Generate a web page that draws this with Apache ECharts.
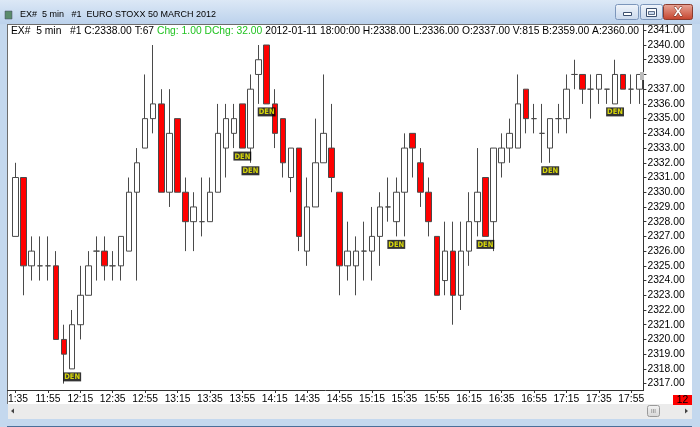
<!DOCTYPE html>
<html><head><meta charset="utf-8">
<script src="https://cdn.jsdelivr.net/npm/echarts@6/dist/echarts.min.js"></script>
<style>html,body{margin:0;padding:0;background:#c4d8ee;}#c{width:700px;height:427px;}</style>
</head><body><div id="c"></div>
<script>
const times = ['11:35','11:40','11:45','11:50','11:55','12:00','12:05','12:10','12:15','12:20','12:25','12:30','12:35','12:40','12:45','12:50','12:55',
'13:00','13:05','13:10','13:15','13:20','13:25','13:30','13:35','13:40','13:45','13:50','13:55',
'14:00','14:05','14:10','14:15','14:20','14:25','14:30','14:35','14:40','14:45','14:50','14:55',
'15:00','15:05','15:10','15:15','15:20','15:25','15:30','15:35','15:40','15:45','15:50','15:55',
'16:00','16:05','16:10','16:15','16:20','16:25','16:30','16:35','16:40','16:45','16:50','16:55',
'17:00','17:05','17:10','17:15','17:20','17:25','17:30','17:35','17:40','17:45','17:50','17:55','18:00'];
const opens = [2327,2331,2325,2325,2325,2325,2320,2318,2321,2323, 2326,2326,2325,2325,2326,2330,2333,2335,2336,2330,
 2335,2330,2328,2328,2328,2330,2333,2334,2336,2333, 2338,2340,2336,2335,2331,2333,2326,2329,2332,2333,
 2330,2325,2325,2326,2326,2327,2329,2328,2330,2334, 2332,2330,2327,2324,2326,2323,2326,2328,2331,2328,
 2332,2333,2333,2337,2335,2334,2333,2335,2335,2338, 2338,2337,2337,2337,2336,2338,2337,2337];
const closes = [2331,2325,2326,2325,2325,2320,2319,2321,2323,2325, 2326,2325,2325,2327,2330,2332,2335,2336,2330,2334,
 2330,2328,2329,2328,2330,2334,2335,2335,2333,2337, 2339,2336,2334,2332,2333,2327,2329,2332,2334,2331,
 2325,2326,2326,2326,2327,2329,2329,2330,2333,2333, 2330,2328,2323,2326,2323,2326,2328,2330,2327,2333,
 2333,2334,2336,2335,2335,2334,2335,2335,2337,2338, 2337,2337,2338,2337,2338,2337,2337,2338];
const lows = [2327,2323,2324,2324,2324,2320,2317,2318,2320,2323, 2324,2324,2324,2324,2326,2324,2333,2334,2330,2329,
 2330,2326,2326,2327,2328,2330,2331,2333,2333,2332, 2336,2336,2333,2331,2330,2326,2325,2329,2332,2330,
 2323,2324,2323,2324,2324,2325,2328,2327,2327,2331, 2329,2327,2323,2323,2321,2322,2325,2327,2327,2326,
 2331,2332,2333,2334,2334,2332,2332,2334,2334,2337, 2336,2335,2336,2336,2336,2337,2336,2336];
const highs = [2332,2331,2327,2327,2327,2326,2321,2322,2325,2326, 2327,2327,2326,2327,2331,2333,2338,2340,2337,2337,
 2335,2331,2330,2331,2331,2336,2336,2336,2336,2338, 2340,2340,2337,2335,2333,2333,2331,2335,2338,2336,
 2330,2328,2327,2328,2329,2330,2331,2331,2334,2334, 2333,2331,2327,2328,2328,2328,2330,2333,2331,2333,
 2334,2335,2338,2337,2336,2336,2335,2336,2338,2339, 2338,2338,2338,2337,2339,2338,2338,2338];
const denIndex = [7,28,29,31,47,58,66,74];
const yMin = 2317, yMax = 2341, yStep = 1;
const hiddenYLabels = [2338];

const candleData = opens.map((o,i)=>[o, closes[i], lows[i], highs[i]]);
const denData = denIndex.map(i=>[i, lows[i]]);

const F = 'Liberation Sans, Arial, sans-serif';
const chart = echarts.init(document.getElementById('c'), null, {renderer:'canvas'});
const g = [];
g.push({type:'rect', z:-5, shape:{x:7,y:24,width:685,height:380}, style:{fill:'#ffffff'}});
g.push({type:'rect', z:-4, shape:{x:0,y:0,width:700,height:24}, style:{fill:new echarts.graphic.LinearGradient(0,0,0,1,[{offset:0,color:'#dce8f6'},{offset:1,color:'#bcd2ec'}])}});
g.push({type:'rect', z:-4, shape:{x:5,y:11,width:7,height:8}, style:{fill:'#5a8a6a', stroke:'#446', lineWidth:0.5}});
g.push({type:'text', z:10, style:{x:20, y:15, text:'EX#  5 min   #1  EURO STOXX 50 MARCH 2012', fontSize:9, fontFamily:F, fill:'#000', verticalAlign:'middle'}});
const btnGrad = ()=>new echarts.graphic.LinearGradient(0,0,0,1,[{offset:0,color:'#f1f5fb'},{offset:1,color:'#c9d8ec'}]);
g.push({type:'rect', z:10, shape:{x:615.5,y:4.5,width:23,height:15,r:2}, style:{fill:btnGrad(), stroke:'#7c96bb'}});
g.push({type:'rect', z:11, shape:{x:623.5,y:12.5,width:8,height:3}, style:{fill:'#fff', stroke:'#3b4f6e'}});
g.push({type:'rect', z:10, shape:{x:640.5,y:4.5,width:22,height:15,r:2}, style:{fill:btnGrad(), stroke:'#7c96bb'}});
g.push({type:'rect', z:11, shape:{x:646.5,y:8.5,width:10,height:8}, style:{fill:'#fff', stroke:'#3b4f6e', lineWidth:1}});
g.push({type:'rect', z:11, shape:{x:648.5,y:11.5,width:6,height:3}, style:{fill:'#c9d8ec', stroke:'#3b4f6e', lineWidth:0.8}});
g.push({type:'rect', z:10, shape:{x:663.5,y:4.5,width:29,height:15,r:2}, style:{fill:new echarts.graphic.LinearGradient(0,0,0,1,[{offset:0,color:'#e9a89a'},{offset:1,color:'#c4412a'}]), stroke:'#8a3b2e'}});
g.push({type:'text', z:11, style:{x:678, y:12.5, text:'X', fontSize:13, fontWeight:'bold', fontFamily:F, fill:'#fff', stroke:'#6b2a1e', lineWidth:0.8, align:'center', verticalAlign:'middle'}});
g.push({type:'line', z:20, shape:{x1:7,y1:24.5,x2:692,y2:24.5}, style:{stroke:'#6d6d6d', lineWidth:1}});
g.push({type:'line', z:20, shape:{x1:7.5,y1:24,x2:7.5,y2:404}, style:{stroke:'#6d6d6d', lineWidth:1}});
g.push({type:'line', z:20, shape:{x1:643.5,y1:24,x2:643.5,y2:390.5}, style:{stroke:'#333', lineWidth:1}});
g.push({type:'line', z:20, shape:{x1:7,y1:390.5,x2:644,y2:390.5}, style:{stroke:'#333', lineWidth:1}});
g.push({type:'rect', z:30, shape:{x:0,y:24,width:7,height:403}, style:{fill:'#c4d8ee'}});
g.push({type:'rect', z:20, shape:{x:8,y:404,width:684,height:15}, style:{fill:'#ebebeb'}});
g.push({type:'polygon', z:21, shape:{points:[[11,411],[14,408.5],[14,413.5]]}, style:{fill:'#444'}});
g.push({type:'polygon', z:21, shape:{points:[[685,408.5],[688,411],[685,413.5]]}, style:{fill:'#444'}});
g.push({type:'rect', z:21, shape:{x:647.5,y:405.5,width:12,height:11,r:2}, style:{fill:new echarts.graphic.LinearGradient(0,0,0,1,[{offset:0,color:'#f4f4f4'},{offset:1,color:'#d6d6d6'}]), stroke:'#9a9a9a'}});
g.push({type:'text', z:22, style:{x:653.5, y:411, text:'III', fontSize:6, fontFamily:F, fill:'#777', align:'center', verticalAlign:'middle'}});
g.push({type:'rect', z:20, shape:{x:0,y:419,width:700,height:8}, style:{fill:'#c4d8ee'}});
g.push({type:'line', z:20, shape:{x1:0,y1:426.5,x2:700,y2:426.5}, style:{stroke:'#4a6f99'}});
g.push({type:'rect', z:30, shape:{x:692,y:24,width:8,height:403}, style:{fill:'#c4d8ee'}});
g.push({type:'rect', z:20, shape:{x:673,y:395,width:19,height:10}, style:{fill:'#ff0000'}});
g.push({type:'text', z:21, style:{x:682.5, y:400.5, text:'12', fontSize:10.3, fontFamily:F, fill:'#000', align:'center', verticalAlign:'middle'}});
g.push({type:'rect', z:21, shape:{x:640,y:72,width:4,height:8}, style:{fill:'#bbb'}});
g.push({type:'text', z:20, style:{x:11, y:31, verticalAlign:'middle', fontFamily:F, fontSize:10.3,
  text:'{a|EX#  5 min   #1 C:2338.00 T:67 }{g|Chg: 1.00 DChg: 32.00}{a| 2012-01-11 18:00:00 H:2338.00 L:2336.00 O:2337.00 V:815 B:2359.00 A:2360.00}',
  rich:{a:{fill:'#000', fontSize:10.3, fontFamily:F}, g:{fill:'#22c322', fontSize:10.3, fontFamily:F}}}});

chart.setOption({
  animation:false,
  backgroundColor:'transparent',
  grid:{left:9.2, right:56.6, top:30.3, bottom:43.4},
  xAxis:{type:'category', data:times, boundaryGap:true, offset:6.4,
    axisLine:{show:false},
    axisTick:{show:true, interval:3, alignWithLabel:true, length:3, lineStyle:{color:'#333'}},
    axisLabel:{interval:3, margin:4, fontSize:10.3, fontFamily:F, color:'#000'},
    splitLine:{show:false}},
  yAxis:{type:'value', position:'right', min:yMin, max:yMax, interval:yStep, scale:true,
    axisLine:{show:false},
    axisTick:{show:true, length:3, lineStyle:{color:'#333'}},
    axisLabel:{margin:4, fontSize:10.3, fontFamily:F, color:'#000',
      formatter:v=>hiddenYLabels.includes(v)?'':v.toFixed(2)},
    splitLine:{show:false}},
  series:[
    {type:'candlestick', data:candleData, barWidth:6,
      itemStyle:{color:'#ffffff', color0:'#ff0000', borderColor:'#4a4a4a', borderColor0:'#4a4a4a', borderWidth:1}},
    {type:'scatter', data:denData, symbolSize:1, itemStyle:{color:'rgba(0,0,0,0)'}, z:5,
      label:{show:true, position:'bottom', distance:3, formatter:'DEN', color:'#ffff00', backgroundColor:'#000',
        fontSize:7.5, fontWeight:'bold', fontFamily:'DejaVu Sans Condensed, Liberation Sans, sans-serif', padding:[1,1,0,1], lineHeight:8}}
  ],
  graphic:g
});
</script></body></html>
